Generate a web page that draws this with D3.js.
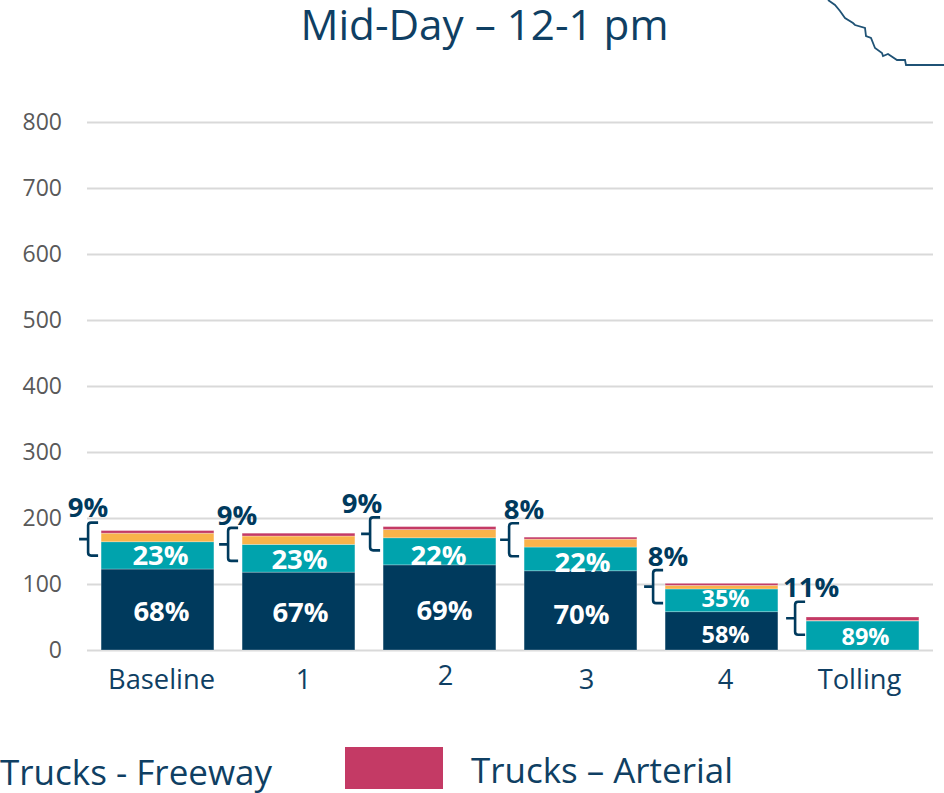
<!DOCTYPE html>
<html><head><meta charset="utf-8">
<script src="https://cdnjs.cloudflare.com/ajax/libs/d3/7.8.5/d3.min.js"></script>
<style>html,body{margin:0;padding:0;background:#fff}svg{display:block;font-family:"Open Sans",sans-serif}</style>
</head><body><svg id="c" width="944" height="793"></svg>
<script>
const categories = ["Baseline","1","2","3","4","Tolling"];
const autoValues = [122.7,118,129,120,58,0];
const transitValues = [41.3,42,41,36,34.5,44];
const trucksFreewayValues = [13,12.7,12.5,12,5.5,0.8];
const trucksArterialValues = [4,4.3,4.5,3,3,5.2];
const autoPct = ["68%","67%","69%","70%","58%",""];
const transitPct = ["23%","23%","22%","22%","35%","89%"];
const trucksPct = ["9%","9%","9%","8%","8%","11%"];
const bracketValues = [168,160,176,167,96,48];
const yTicks = [0,100,200,300,400,500,600,700,800];
const seriesNames = ["Auto","Transit","Trucks - Freeway","Trucks – Arterial"];

const navy="#003a5d", teal="#00a3ad", amber="#f9b34a", crimson="#c43a65", ink="#0f3f63";
const colors=[navy,teal,amber,crimson];
const svg=d3.select("#c");
const x=d3.scaleBand().domain(categories).range([87,933]).paddingInner(0.2).paddingOuter(0.1);
const y=d3.scaleLinear().domain([0,800]).range([650,122]);

// axis and gridlines
const ax=svg.append("g").attr("transform","translate(87,0)")
  .call(d3.axisLeft(y).tickValues(yTicks).tickSize(-846).tickPadding(25));
ax.select(".domain").remove();
ax.selectAll("line").attr("stroke","#d9d9d9").attr("stroke-width",2);
ax.selectAll("text").attr("fill","#595959").attr("font-size",23).attr("font-family","'Open Sans',sans-serif");

// stacked bars
const rows=categories.map((c,i)=>({c,s0:autoValues[i],s1:transitValues[i],s2:trucksFreewayValues[i],s3:trucksArterialValues[i]}));
const stacked=d3.stack().keys(["s0","s1","s2","s3"])(rows);
svg.append("g").selectAll("g").data(stacked).join("g").attr("fill",(d,i)=>colors[i])
  .selectAll("rect").data(d=>d).join("rect")
  .attr("x",d=>x(d.data.c)).attr("width",x.bandwidth())
  .attr("y",d=>y(d[1])).attr("height",d=>Math.max(0,y(d[0])-y(d[1])))
  .attr("stroke","#fff").attr("stroke-opacity",0.35).attr("stroke-width",0.75);

// hand-placed label offsets of the reference (pixels)
const catDx=[4,5,6,6,4,-3], catY=[678,678,674,678,678,678];
const autoDx=[4,2,5,1,4,0], autoY=[610,611,609,613.5,634,0];
const transitDx=[3,1,-1,2,4,3], transitY=[554.5,558.5,554.5,561.5,597.5,636];
const pctSize=[27.5,27.5,27.5,27.5,23.5,23.5];
const braceDx=[-3,-4,-3,-5,-2,-1];
const braceLabelDx=[-13,-5,-21,0,3,5];
const braceLabelDy=[-33,-29.5,-31,-31,-31,-31.5];
const braceHalf=16.5;

const mid=c=>x(c)+x.bandwidth()/2;
function lbl(t,px,py,size,fill,weight){
  return svg.append("text").attr("x",px).attr("y",py).attr("text-anchor","middle")
   .attr("dominant-baseline","central").attr("font-size",size).attr("font-weight",weight||400)
   .attr("fill",fill).text(t);
}
categories.forEach((c,i)=>{
  lbl(c,mid(c)+catDx[i],catY[i],27.3,ink);
  if(autoPct[i]) lbl(autoPct[i],mid(c)+autoDx[i],autoY[i],pctSize[i],"#fff",700);
  lbl(transitPct[i],mid(c)+transitDx[i],transitY[i],pctSize[i],"#fff",700);
  const bx=x(c)+braceDx[i], by=y(bracketValues[i]), h=braceHalf;
  svg.append("path").attr("fill","none").attr("stroke",navy).attr("stroke-width",2.6)
    .attr("d",`M${bx},${by-h} H${bx-7} q-3,0 -3,3 V${by+h-3} q0,3 3,3 H${bx} M${bx-19},${by} H${bx-10}`);
  lbl(trucksPct[i],x(c)+braceLabelDx[i],by+braceLabelDy[i],27.5,navy,700);
});

// title
svg.append("text").attr("x",484.5).attr("y",40).attr("text-anchor","middle")
  .attr("font-size",42.2).attr("fill",ink).text("Mid-Day – 12-1 pm");

// legend
svg.append("rect").attr("x",345).attr("y",747).attr("width",98).attr("height",42).attr("fill",crimson);
svg.append("text").attr("x",0).attr("y",785).attr("font-size",35).attr("fill",ink)
  .attr("textLength",272).attr("lengthAdjust","spacingAndGlyphs").text(seriesNames[2]);
svg.append("text").attr("x",471).attr("y",783).attr("font-size",35).attr("fill",ink)
  .attr("textLength",262).attr("lengthAdjust","spacingAndGlyphs").text(seriesNames[3]);

// decorative map outline at top right
const outline=[[828,0],[835,5],[840,11],[845,18],[853,23],[855,25],[865,28],[866,36],[871,38],[875,48],[882,53],[883,56],[888,54],[897,60],[905,60],[906,65],[944,65]];
svg.append("path").attr("fill","none").attr("stroke","#1f5275").attr("stroke-width",1.8)
  .attr("d",d3.line()(outline));
</script></body></html>
